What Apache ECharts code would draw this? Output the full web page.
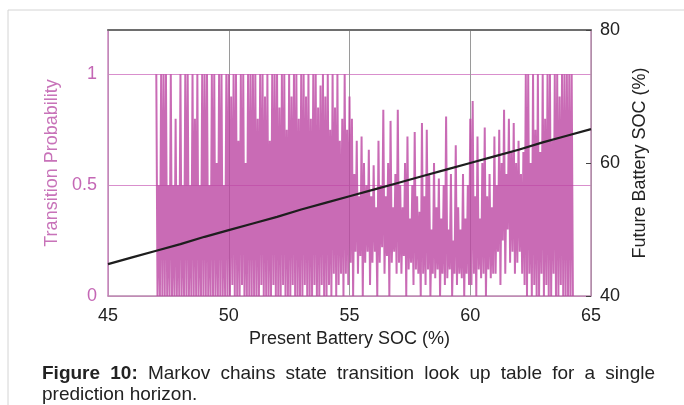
<!DOCTYPE html>
<html>
<head>
<meta charset="utf-8">
<script src="https://cdn.jsdelivr.net/npm/echarts@6/dist/echarts.min.js"></script>
<style>
  html, body { margin: 0; padding: 0; background: #fff; }
  #chart { width: 684px; height: 405px; }
</style>
</head>
<body>
<div id="chart"></div>
<script>
// Present-SOC states start at 47.0 % and are spaced 0.1 % apart.
// Each row holds ten consecutive states (one percent of SOC).
const socRows = [47, 48, 49, 50, 51, 52, 53, 54, 55, 56, 57, 58, 59, 60, 61, 62, 63, 64];

// Upper and lower transition probability reached in each state.
const probHigh = [
  [1, 0.5, 1, 1, 1, 0.5, 1, 0.5, 0.8, 0.5],
  [1, 0.5, 1, 1, 0.5, 1, 0.8, 1, 0.5, 1],
  [1, 1, 0.5, 1, 1, 0.6, 1, 1, 0.5, 1],
  [1, 0.9, 1, 1, 0.7, 1, 1, 0.6, 1, 1],
  [1, 1, 0.8, 1, 1, 0.9, 1, 0.7, 1, 1],
  [1, 0.85, 1, 1, 0.75, 1, 0.9, 1, 1, 0.8],
  [1, 1, 0.9, 1, 0.8, 1, 1, 0.85, 0.95, 1],
  [0.9, 1, 0.75, 1, 0.85, 1, 0.7, 0.8, 1, 0.75],
  [0.9, 0.8, 0.55, 0.7, 0.45, 0.72, 0.6, 0.5, 0.66, 0.45],
  [0.59, 0.4, 0.7, 0.5, 0.84, 0.45, 0.6, 0.79, 0.4, 0.55],
  [0.84, 0.5, 0.4, 0.6, 0.72, 0.35, 0.5, 0.74, 0.45, 0.38],
  [0.78, 0.45, 0.75, 0.55, 0.3, 0.6, 0.4, 0.53, 0.35, 0.5],
  [0.81, 0.3, 0.55, 0.25, 0.68, 0.4, 0.3, 0.55, 0.35, 0.5],
  [0.8, 0.88, 0.45, 0.72, 0.35, 0.6, 0.76, 0.45, 0.55, 0.4],
  [0.72, 0.5, 0.75, 0.6, 0.84, 0.55, 0.8, 0.65, 0.78, 0.6],
  [0.7, 0.55, 0.65, 1, 1, 0.6, 1, 0.75, 1, 0.65],
  [1, 0.8, 1, 1, 0.7, 1, 1, 0.9, 1, 1],
  [1, 1, 1]
];
const probLow = [
  [0, 0, 0, 0, 0, 0, 0, 0, 0, 0],
  [0, 0, 0, 0, 0, 0, 0, 0, 0, 0],
  [0, 0, 0, 0, 0, 0, 0, 0, 0, 0],
  [0, 0.05, 0, 0, 0, 0.05, 0, 0, 0, 0],
  [0, 0, 0, 0.05, 0, 0, 0, 0, 0.05, 0],
  [0, 0, 0.05, 0, 0, 0, 0.05, 0, 0, 0],
  [0, 0.05, 0, 0, 0, 0.05, 0, 0, 0.05, 0],
  [0, 0.05, 0, 0.1, 0, 0.05, 0.1, 0, 0.1, 0.05],
  [0.15, 0, 0.2, 0.1, 0.18, 0, 0.15, 0.2, 0.05, 0.15],
  [0.2, 0, 0.15, 0.22, 0.1, 0.18, 0, 0.15, 0.2, 0.1],
  [0.15, 0.1, 0.18, 0, 0.12, 0.15, 0.05, 0.12, 0.1, 0],
  [0.1, 0.05, 0.12, 0, 0.1, 0.08, 0.12, 0, 0.1, 0.05],
  [0.08, 0.12, 0, 0.1, 0.05, 0.1, 0.08, 0, 0.1, 0.05],
  [0.05, 0.1, 0, 0.12, 0.08, 0.1, 0, 0.12, 0.08, 0.1],
  [0.1, 0.2, 0.05, 0.25, 0.1, 0.3, 0.15, 0.2, 0.1, 0.15],
  [0.2, 0.1, 0.05, 0, 0.1, 0, 0.05, 0, 0, 0.1],
  [0, 0.05, 0, 0, 0.1, 0, 0, 0.05, 0, 0],
  [0, 0, 0]
];

// Most likely future SOC for each present SOC (right axis).
const presentSoc = [45, 46, 47, 48, 49, 50, 51, 52, 53, 54, 55, 56, 57, 58, 59, 60, 61, 62, 63, 64, 65];
const futureSoc  = [44.8, 45.8, 46.8, 47.8, 48.9, 49.9, 50.9, 51.9, 53.0, 54.0, 55.0, 56.0, 57.0, 58.0, 59.0, 60.0, 61.0, 62.0, 63.1, 64.1, 65.1];

// Axis tick labels.
const xTicks = [45, 50, 55, 60, 65];
const probTicks = [0, 0.5, 1];
const socTicks = [40, 60, 80];

const captionBold = ['Figure', '10:'];
const captionLine1 = ['Markov', 'chains', 'state', 'transition', 'look', 'up', 'table', 'for', 'a', 'single'];
const captionLine2 = 'prediction horizon.';

// Zig-zag path: each state rises to its high value, then drops to its low value.
const stepPath = [];
socRows.forEach((base, r) => {
  probHigh[r].forEach((h, j) => {
    const soc = +(base + j * 0.1).toFixed(2);
    stepPath.push([soc, h]);
    stepPath.push([+(soc + 0.05).toFixed(3), probLow[r][j]]);
  });
});

const FONT = '"Liberation Sans", Arial, sans-serif';

// Justified caption layout.
function measure(text, weight) {
  const ctx = document.createElement('canvas').getContext('2d');
  ctx.font = weight + ' 19px ' + FONT;
  return ctx.measureText(text).width;
}
const capLeft = 42, capRight = 655;
const words = captionBold.map(w => ({ t: w, b: true })).concat(captionLine1.map(w => ({ t: w, b: false })));
const widths = words.map(w => measure(w.t, w.b ? 'bold' : 'normal'));
const gap = (capRight - capLeft - widths.reduce((a, b) => a + b, 0)) / (words.length - 1);
const captionEls = [];
let cx = capLeft;
words.forEach((w, i) => {
  captionEls.push({
    type: 'text', left: cx, top: 364,
    style: { text: w.t, fill: '#222', font: (w.b ? 'bold ' : '') + '19px ' + FONT }
  });
  cx += widths[i] + gap;
});
captionEls.push({
  type: 'text', left: capLeft, top: 385,
  style: { text: captionLine2, fill: '#222', font: '19px ' + FONT }
});

const chart = echarts.init(document.getElementById('chart'), null, { renderer: 'canvas' });
chart.setOption({
  animation: false,
  backgroundColor: '#fff',
  grid: { left: 108, right: 93, top: 30, bottom: 109, containLabel: false },
  xAxis: [
    {
      type: 'value', min: 45, max: 65, interval: 5,
      name: 'Present Battery SOC (%)', nameLocation: 'middle', nameGap: 33,
      nameTextStyle: { color: '#222', fontSize: 18, fontFamily: FONT },
      axisLine: { lineStyle: { color: '#b98aae', width: 1.5 } },
      axisTick: { show: false },
      axisLabel: {
        color: '#222', fontSize: 18, fontFamily: FONT, margin: 11,
        formatter: v => (xTicks.includes(v) ? String(v) : '')
      },
      splitLine: { show: true, lineStyle: { color: '#9a9a9a', width: 1 } }
    },
    {
      type: 'value', min: 45, max: 65, position: 'top',
      axisLine: { show: true, lineStyle: { color: '#6e6e6e', width: 2 } },
      axisTick: { show: false }, axisLabel: { show: false }, splitLine: { show: false }
    }
  ],
  yAxis: [
    {
      type: 'value', min: 0, max: 1.2, interval: 0.5, position: 'left',
      name: 'Transition Probability', nameLocation: 'middle', nameGap: 34, nameRotate: 90,
      nameTextStyle: { color: '#c873b9', fontSize: 18, fontFamily: FONT },
      axisLine: { show: true, lineStyle: { color: '#cc86c0', width: 1.5 } },
      axisTick: { show: false },
      axisLabel: {
        color: '#c467b5', fontSize: 18, fontFamily: FONT, margin: 11,
        formatter: v => (probTicks.includes(v) ? String(v) : '')
      },
      splitLine: { show: true, lineStyle: { color: '#d98fcd', width: 1 } }
    },
    {
      type: 'value', min: 40, max: 80, interval: 20, position: 'right',
      name: 'Future Battery SOC (%)', nameLocation: 'middle', nameGap: 33, nameRotate: 90,
      nameTextStyle: { color: '#222', fontSize: 18, fontFamily: FONT },
      axisLine: { show: true, lineStyle: { color: '#b98aae', width: 1.5 } },
      axisTick: { show: true, inside: true, length: 5, lineStyle: { color: '#444' } },
      axisLabel: {
        color: '#222', fontSize: 18, fontFamily: FONT, margin: 9,
        formatter: v => (socTicks.includes(v) ? String(v) : '')
      },
      splitLine: { show: false }
    }
  ],
  series: [
    {
      type: 'line', xAxisIndex: 0, yAxisIndex: 0,
      data: stepPath, showSymbol: false, sampling: null,
      lineStyle: { color: 'rgba(188, 70, 162, 0.8)', width: 2 },
      z: 2
    },
    {
      type: 'line', xAxisIndex: 0, yAxisIndex: 1,
      data: presentSoc.map((p, i) => [p, futureSoc[i]]),
      showSymbol: false,
      lineStyle: { color: '#1e1e1e', width: 2.2 },
      z: 3
    }
  ],
  graphic: [
    { type: 'line', shape: { x1: 8, y1: 10, x2: 684, y2: 10 }, style: { stroke: '#d4d4d4', lineWidth: 1 } },
    { type: 'line', shape: { x1: 8, y1: 10, x2: 8, y2: 405 }, style: { stroke: '#d4d4d4', lineWidth: 1 } }
  ].concat(captionEls)
});
</script>
</body>
</html>
